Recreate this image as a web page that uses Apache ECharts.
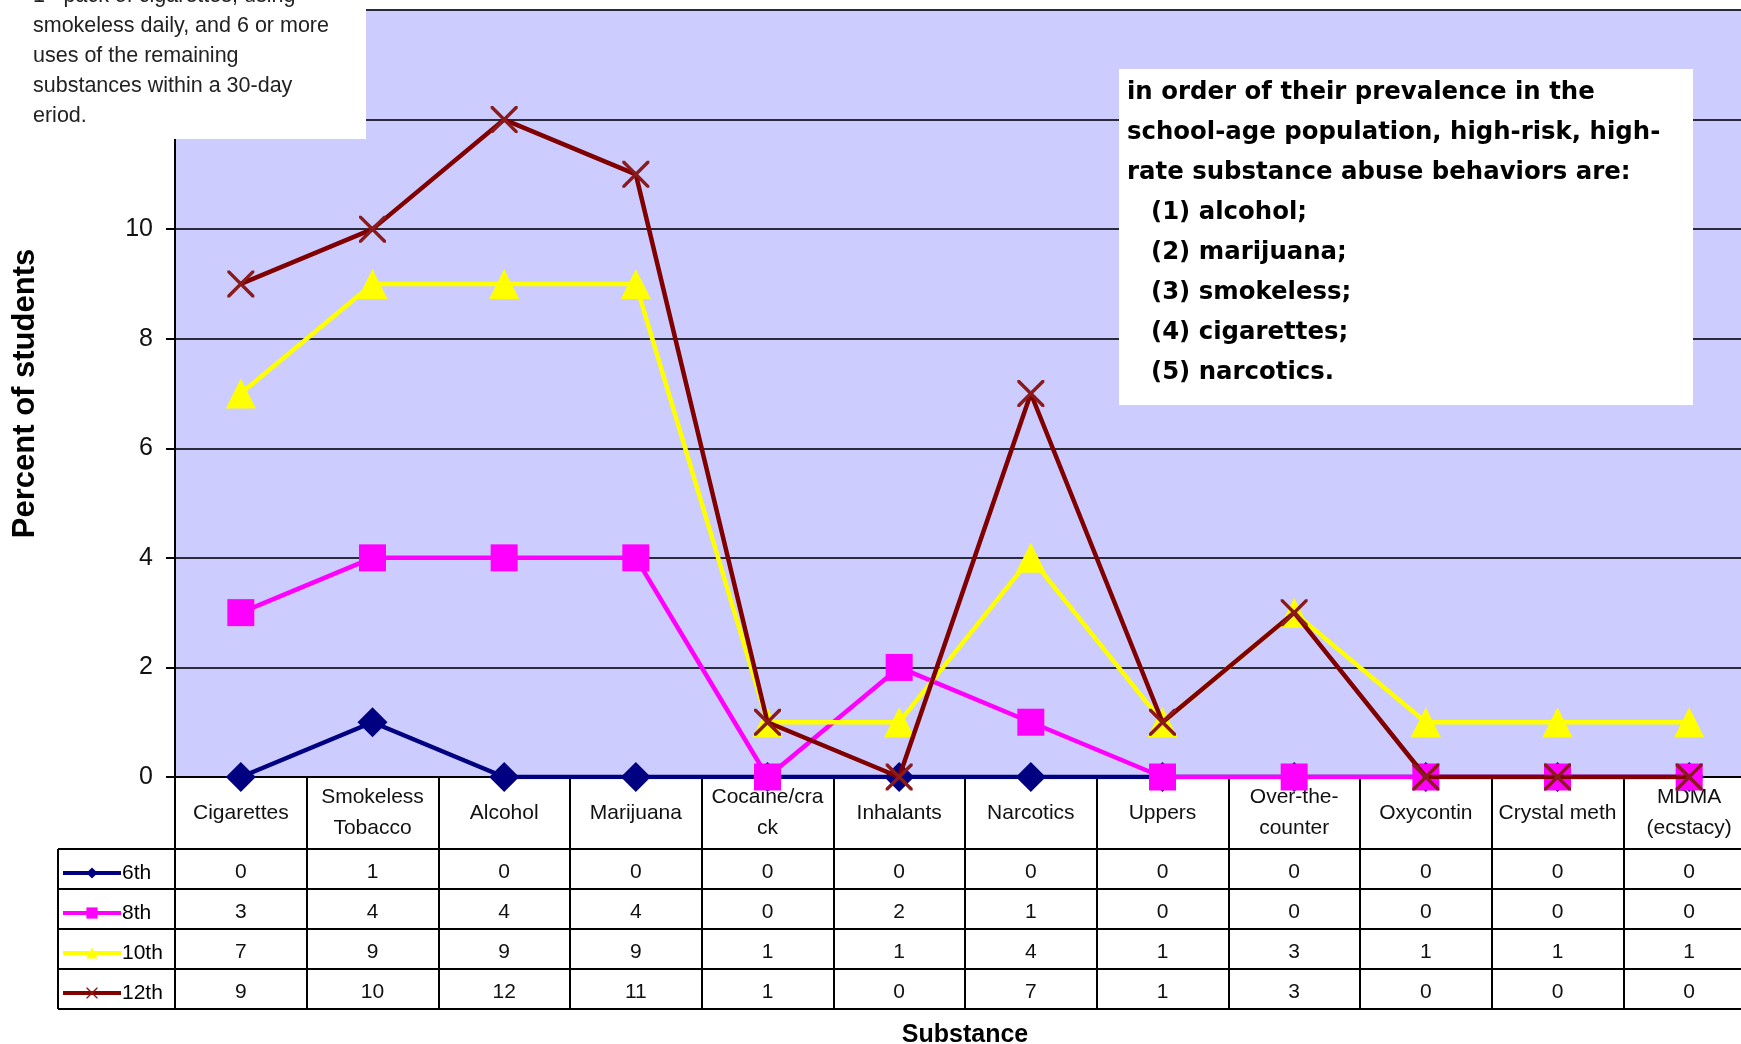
<!DOCTYPE html>
<html><head><meta charset="utf-8">
<script src="https://cdn.jsdelivr.net/npm/echarts@6/dist/echarts.min.js"></script>
<style>html,body{margin:0;padding:0;background:#fff}#c{width:1741px;height:1044px}</style>
</head><body><div id="c"></div>
<script>
const categories = ['Cigarettes','Smokeless\nTobacco','Alcohol','Marijuana','Cocaine/cra\nck','Inhalants','Narcotics','Uppers','Over-the-\ncounter','Oxycontin','Crystal meth','MDMA\n(ecstacy)'];
const seriesNames = ['6th','8th','10th','12th'];
const grade6  = [0,1,0,0,0,0,0,0,0,0,0,0];
const grade8  = [3,4,4,4,0,2,1,0,0,0,0,0];
const grade10 = [7,9,9,9,1,1,4,1,3,1,1,1];
const grade12 = [9,10,12,11,1,0,7,1,3,0,0,0];
const yMin = 0, yMax = 14, yInterval = 2;
const noteLeft = ['1+ pack of cigarettes, using','smokeless daily, and 6 or more','uses of the remaining','substances within a 30-day','eriod.'];
const noteRight = ['in order of their prevalence in the','school-age population, high-risk, high-','rate substance abuse behaviors are:','(1) alcohol;','(2) marijuana;','(3) smokeless;','(4) cigarettes;','(5) narcotics.'];
const noteRightIndent = [0,0,0,1,1,1,1,1];

const allData = [grade6, grade8, grade10, grade12];
const colors = ['#000080','#FF00FF','#FFFF00','#800000'];
const XPATH = 'path://M0,0L0.9,0L10,9.1L10,10L9.1,10L0,0.9Z M9.1,0L10,0L10,0.9L0.9,10L0,10L0,9.1Z';
const symbols = ['diamond','rect','triangle',XPATH];
const symSizes = [30,27,30,27];
const symColors = ['#000080','#FF00FF','#FFFF00','#8B1A1A'];

const GRID_LEFT = 175, GRID_TOP = 10, AXIS_Y = 777, ROW_H = 40, TABLE_TOP = 849, TABLE_LEFT = 58;
const font = 'Liberation Sans, Arial, sans-serif';

const chart = echarts.init(document.getElementById('c'), null, {renderer:'canvas'});

const series = seriesNames.map((n,i)=>({
  name:n, type:'line', data: allData[i],
  symbol: symbols[i], symbolSize: symSizes[i], showAllSymbol:true,
  lineStyle:{color:colors[i], width:4.5},
  itemStyle:{color:symColors[i]},
  emphasis:{disabled:true}, z: 2+i
}));

const option = {
  animation:false,
  backgroundColor:'#fff',
  grid:{left:GRID_LEFT, width:1580, top:GRID_TOP, bottom:1044-AXIS_Y, backgroundColor:'#CCCCFF', show:true, borderWidth:0, outerBoundsMode:'none', containLabel:false},
  xAxis:{type:'category', data:categories, boundaryGap:true,
    name:'Substance', nameLocation:'middle', nameGap:246,
    nameTextStyle:{fontFamily:font, fontWeight:'bold', fontSize:25, color:'#000'},
    axisLine:{lineStyle:{color:'#000', width:2}},
    axisTick:{show:true, length:1009-AXIS_Y, lineStyle:{color:'#000', width:2}},
    axisLabel:{interval:0, margin:36, verticalAlign:'middle', fontFamily:font, fontSize:21, lineHeight:31, color:'#111'},
    splitLine:{show:false}},
  yAxis:{type:'value', min:yMin, max:yMax, interval:yInterval,
    name:'Percent of students', nameLocation:'middle', nameGap:134, nameRotate:90,
    nameTextStyle:{fontFamily:font, fontWeight:'bold', fontSize:31, color:'#000'},
    axisLine:{show:true, lineStyle:{color:'#000', width:2}},
    axisTick:{show:true, length:9, lineStyle:{color:'#000', width:2}},
    axisLabel:{margin:22, fontFamily:font, fontSize:25, color:'#111'},
    splitLine:{lineStyle:{color:'#2a2a3a', width:2}}},
  legend:{orient:'vertical', left:61, top:TABLE_TOP+20-7, padding:0, itemGap:18, itemWidth:58, itemHeight:14,
    lineStyle:{width:4},
    textStyle:{fontFamily:font, fontSize:21, lineHeight:22, color:'#000', padding:[0,0,0,-4]},
    selectedMode:false, data:seriesNames},
  series
};
chart.setOption(option);

const g = [];
for (let r=0;r<=4;r++){
  const y = TABLE_TOP + r*ROW_H;
  g.push({type:'line', shape:{x1:TABLE_LEFT, y1:y, x2:1741, y2:y}, style:{stroke:'#000', lineWidth:2}, z:50});
}
g.push({type:'line', shape:{x1:TABLE_LEFT, y1:TABLE_TOP, x2:TABLE_LEFT, y2:TABLE_TOP+4*ROW_H}, style:{stroke:'#000', lineWidth:2}, z:50});
allData.forEach((arr,r)=>{
  arr.forEach((v,i)=>{
    const x = chart.convertToPixel({xAxisIndex:0}, i);
    g.push({type:'text', x:x, y:TABLE_TOP + r*ROW_H + ROW_H/2 + 3, style:{text:String(v), fill:'#111', font:'21px '+font, align:'center', verticalAlign:'middle'}, z:50});
  });
});
g.push({type:'rect', shape:{x:0,y:0,width:366,height:139}, style:{fill:'#fff'}, z:100});
noteLeft.forEach((t,k)=>{
  g.push({type:'text', x:33, y:-4 + k*30, style:{text:t, fill:'#222', font:'21.5px '+font, verticalAlign:'middle'}, z:101});
});
g.push({type:'rect', shape:{x:1119,y:69,width:574,height:336}, style:{fill:'#fff'}, z:100});
noteRight.forEach((t,k)=>{
  g.push({type:'text', x:1127 + noteRightIndent[k]*24, y:93 + k*40, style:{text:t, fill:'#000', font:'bold 24.4px DejaVu Sans, sans-serif', verticalAlign:'middle'}, z:101});
});
chart.setOption({graphic:g});
</script></body></html>
